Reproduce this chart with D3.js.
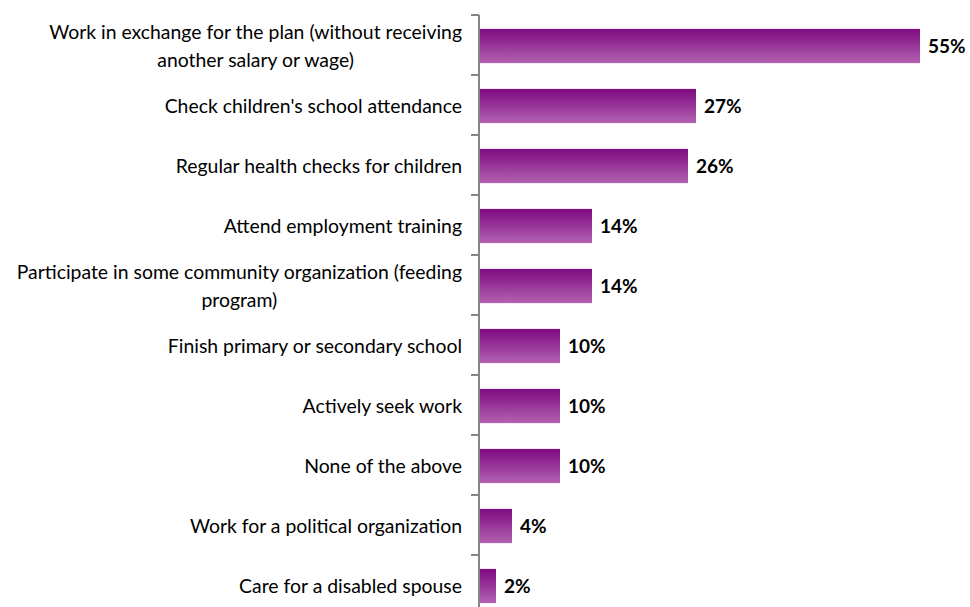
<!DOCTYPE html>
<html>
<head>
<meta charset="utf-8">
<script src="https://cdn.jsdelivr.net/npm/d3@7"></script>
<style>
  html, body { margin: 0; padding: 0; background: #fff; }
  svg { display: block; }
</style>
</head>
<body>
<svg id="chart" width="970" height="607"></svg>
<script>
// Requirements reported by respondents (share of mentions)
const categories = [
  ["Work in exchange for the plan (without receiving", "another salary or wage)"],
  ["Check children's school attendance"],
  ["Regular health checks for children"],
  ["Attend employment training"],
  ["Participate in some community organization (feeding", "program)"],
  ["Finish primary or secondary school"],
  ["Actively seek work"],
  ["None of the above"],
  ["Work for a political organization"],
  ["Care for a disabled spouse"]
];
const values = [55, 27, 26, 14, 14, 10, 10, 10, 4, 2];
const valueLabels = values.map(v => v + "%");

const svg = d3.select("#chart");
const axisX = 479;
const topY = 15, step = 60;
const fontStack = "Lato, 'Open Sans', sans-serif";

const x = d3.scaleLinear().domain([0, 55]).range([axisX + 1, axisX + 1 + 440]);
const y = d3.scaleBand()
  .domain(d3.range(categories.length))
  .range([topY, topY + step * categories.length])
  .paddingInner(0.43).paddingOuter(0.215);

const defs = svg.append("defs");
const grad = defs.append("linearGradient")
  .attr("id", "barFill").attr("x1", 0).attr("y1", 0).attr("x2", 0).attr("y2", 1);
grad.append("stop").attr("offset", "0%").attr("stop-color", "#7e0a80");
grad.append("stop").attr("offset", "100%").attr("stop-color", "#b262b2");

// Bars
svg.append("g").selectAll("rect")
  .data(values)
  .join("rect")
  .attr("x", x(0))
  .attr("y", (d, i) => y(i) + 1)
  .attr("width", d => x(d) - x(0))
  .attr("height", y.bandwidth())
  .attr("fill", "url(#barFill)");

// Value labels
svg.append("g").selectAll("text")
  .data(values)
  .join("text")
  .attr("x", d => x(d) + 8)
  .attr("y", (d, i) => y(i) + 1 + y.bandwidth() / 2)
  .attr("dy", "0.36em")
  .attr("font-family", fontStack)
  .attr("font-weight", "bold")
  .attr("font-size", 19)
  .attr("fill", "#000")
  .text((d, i) => valueLabels[i]);

// Category axis: line with ticks at band boundaries
const boundaries = d3.range(categories.length + 1).map(i => topY + i * step);
const axisG = svg.append("g");
axisG.append("line")
  .attr("x1", axisX).attr("x2", axisX)
  .attr("y1", topY).attr("y2", topY + step * categories.length)
  .attr("stroke", "#858585").attr("stroke-width", 2);
axisG.selectAll("line.tick")
  .data(boundaries)
  .join("line")
  .attr("class", "tick")
  .attr("x1", axisX - 8).attr("x2", axisX)
  .attr("y1", d => d).attr("y2", d => d)
  .attr("stroke", "#858585").attr("stroke-width", 2);

// Category labels, centred lines, block right-aligned to the axis
const labelRight = 462;
const lineGap = 28;
const labelG = svg.append("g")
  .attr("font-family", fontStack)
  .attr("font-size", 19.4)
  .attr("fill", "#000");

categories.forEach((lines, i) => {
  const cy = y(i) + 1 + y.bandwidth() / 2;
  const t = labelG.append("text").attr("text-anchor", "middle");
  const spans = lines.map((ln, k) => t.append("tspan")
    .attr("y", cy + (k - (lines.length - 1) / 2) * lineGap)
    .attr("dy", "0.35em")
    .text(ln));
  const maxW = d3.max(spans, s => s.node().getComputedTextLength());
  spans.forEach(s => s.attr("x", labelRight - maxW / 2));
});
</script>
</body>
</html>
